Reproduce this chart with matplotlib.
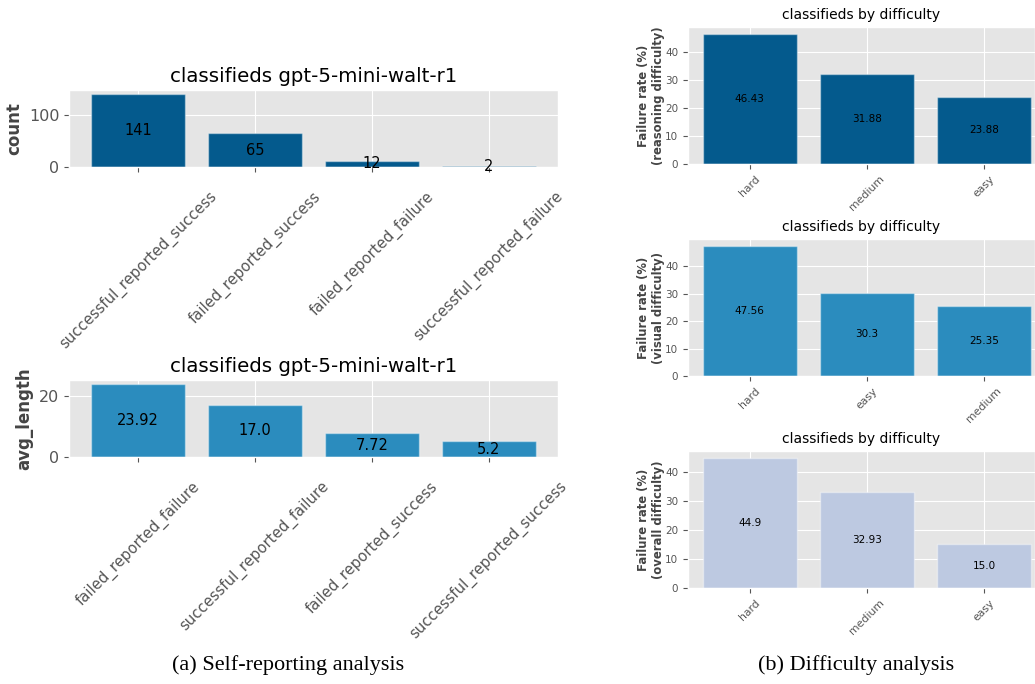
import matplotlib
matplotlib.use("Agg")
import matplotlib.pyplot as plt

# data
count_cats = ["successful_reported_success", "failed_reported_success",
              "failed_reported_failure", "successful_reported_failure"]
count_vals = [141, 65, 12, 2]

len_cats = ["failed_reported_failure", "successful_reported_failure",
            "failed_reported_success", "successful_reported_success"]
len_vals = [23.92, 17.0, 7.72, 5.2]

reason_cats = ["hard", "medium", "easy"]
reason_vals = [46.43, 31.88, 23.88]

visual_cats = ["hard", "easy", "medium"]
visual_vals = [47.56, 30.3, 25.35]

overall_cats = ["hard", "medium", "easy"]
overall_vals = [44.9, 32.93, 15.0]

dark = "#045a8d"
mid = "#2b8cbe"
light = "#bdc9e1"

plt.style.use("ggplot")

W, H = 1035, 684
fig = plt.figure(figsize=(W / 100, H / 100), dpi=100)
fig.patch.set_facecolor("white")


def box(x0, x1, y0, y1):
    return [x0 / W, 1 - y1 / H, (x1 - x0) / W, (y1 - y0) / H]


def left_panel(rect, cats, vals, color, ylab):
    ax = fig.add_axes(rect)
    ax.bar(cats, vals, color=color, edgecolor=(1, 1, 1, 0.4), linewidth=1)
    for i, v in enumerate(vals):
        ax.text(i, v / 2, str(v), ha="center", va="center", fontsize=10.5, color="black")
    ax.set_title("classifieds gpt-5-mini-walt-r1", fontsize=14.2)
    ax.set_ylabel(ylab, fontsize=12, fontweight="bold", color="#444444")
    ax.tick_params(axis="x", labelrotation=45, labelsize=10.7, colors="#555555", pad=12)
    ax.tick_params(axis="y", labelsize=11.5, colors="#555555")
    return ax


def right_panel(rect, cats, vals, color, ylab):
    ax = fig.add_axes(rect)
    ax.bar(cats, vals, color=color, edgecolor=(1, 1, 1, 0.4), linewidth=1)
    for i, v in enumerate(vals):
        ax.text(i, v / 2, str(v), ha="center", va="center", fontsize=7.5, color="black")
    ax.set_xlim(-0.525, 2.433)
    ax.set_title("classifieds by difficulty", fontsize=10)
    ax.set_ylabel(ylab, fontsize=8.4, fontweight="bold", color="#444444", labelpad=0)
    ax.tick_params(axis="x", labelrotation=45, labelsize=7.8, colors="#555555")
    ax.tick_params(axis="y", labelsize=7.5, colors="#555555")
    return ax


left_panel(box(69, 558, 90, 167), count_cats, count_vals, dark, "count")
left_panel(box(69, 558, 380, 457), len_cats, len_vals, mid, "avg_length")

right_panel(box(688, 1035, 27, 164), reason_cats, reason_vals, dark,
            "Failure rate (%)\n(reasoning difficulty)")
right_panel(box(688, 1035, 239, 376), visual_cats, visual_vals, mid,
            "Failure rate (%)\n(visual difficulty)")
right_panel(box(688, 1035, 451, 588), overall_cats, overall_vals, light,
            "Failure rate (%)\n(overall difficulty)")

fig.text(288 / W, 1 - 665 / H, "(a) Self-reporting analysis", ha="center", va="center",
         fontsize=16, family="Liberation Serif")
fig.text(856 / W, 1 - 665 / H, "(b) Difficulty analysis", ha="center", va="center",
         fontsize=16, family="Liberation Serif")

fig.savefig("out.png", dpi=100)
